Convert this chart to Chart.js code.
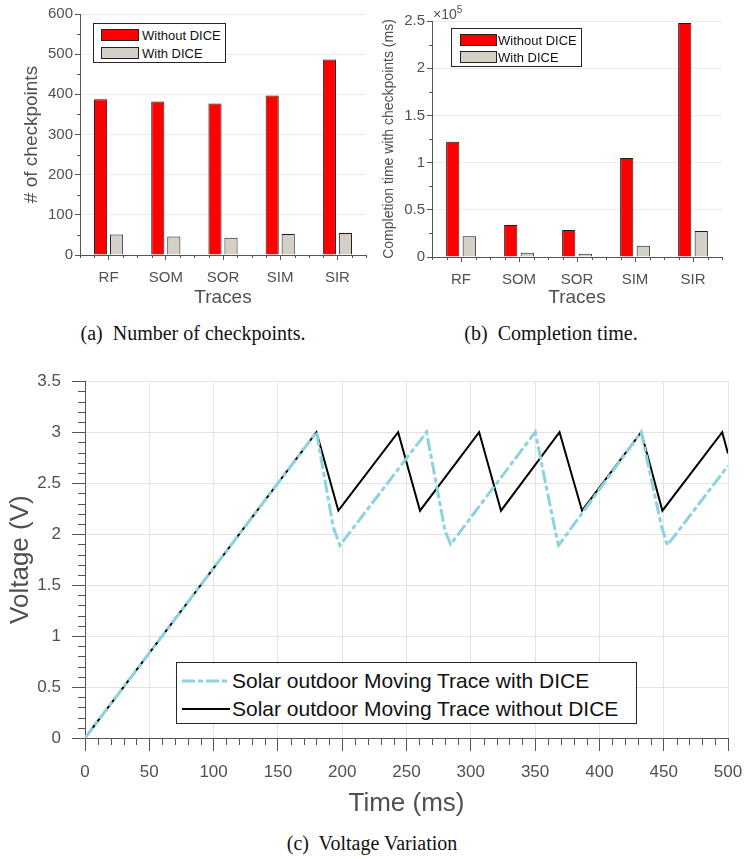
<!DOCTYPE html>
<html><head><meta charset="utf-8">
<script src="https://cdn.jsdelivr.net/npm/chart.js@4.4.1/dist/chart.umd.min.js"></script>
<style>
html,body{margin:0;padding:0;background:#fff;width:744px;height:859px;overflow:hidden;}
body{position:relative;font-family:"Liberation Sans",Arial,sans-serif;}
canvas{position:absolute;}
#cA{left:0;top:0;} #cB{left:372px;top:0;} #cC{left:0;top:360px;}
.cap{position:absolute;font-family:"Liberation Serif","Times New Roman",serif;font-size:20px;color:#111;white-space:pre;transform:translate(-50%,-50%);}
.leg{position:absolute;border:1px solid #262626;background:#fff;box-sizing:border-box;}
.sw{position:absolute;border:1px solid #222;box-sizing:border-box;}
.lt{position:absolute;color:#111;white-space:nowrap;transform:translateY(-50%);}
#exp{position:absolute;left:433px;top:4px;font-size:14px;color:#505050;}
#exp sup{font-size:10px;}
</style>
</head><body>
<canvas id="cA" width="372" height="309"></canvas>
<canvas id="cB" width="372" height="309"></canvas>
<canvas id="cC" width="744" height="459"></canvas>
<div id="exp">×10<sup>5</sup></div>
<div class="cap" style="left:193px;top:333px;">(a)  Number of checkpoints.</div>
<div class="cap" style="left:551px;top:333px;">(b)  Completion time.</div>
<div class="cap" style="left:372px;top:843px;">(c)  Voltage Variation</div>
<script>
// ---------- data ----------
const traceLabels = ['RF', 'SOM', 'SOR', 'SIM', 'SIR'];
const barSeriesNames = ['Without DICE', 'With DICE'];
const checkpointsWithout = [388, 382, 377, 397, 487];
const checkpointsWith = [51, 46, 43, 52, 55];
const timeWithoutMs = [122000, 34000, 28500, 105000, 248000];
const timeWithMs = [22000, 4500, 3500, 12000, 27500];

const lineSeriesNames = ['Solar outdoor Moving Trace with DICE', 'Solar outdoor Moving Trace without DICE'];
const tWith = [0, 180, 193, 198.2, 265.6, 280, 284.3, 350.1, 365.4, 368.3, 432.5, 448.4, 452.8, 500];
const vWith = [0, 3.0, 2.07, 1.89, 3.0, 2.03, 1.9, 3.0, 2.05, 1.89, 3.0, 2.07, 1.89, 2.67];
const tWithout = [0, 180, 197, 243.5, 260.5, 306.5, 323.5, 369, 386.5, 432.5, 449, 495.5, 500];
const vWithout = [0, 3.0, 2.23, 3.0, 2.23, 3.0, 2.23, 3.0, 2.23, 3.0, 2.23, 3.0, 2.79];

// ---------- styling ----------
const FAM = '"Liberation Sans", Arial, sans-serif';
const TXT = '#505050';
const AX = '#555555';
const RED = '#ff0000';
const GREY = '#d4d0c8';
const CYAN = '#8dd3df';

const minorTicks = {
  id: 'minorTicks',
  afterDraw(chart, args, opts) {
    const ctx = chart.ctx;
    ctx.save();
    ctx.strokeStyle = opts.color || AX;
    ctx.lineWidth = 1;
    for (const key of ['x', 'y']) {
      const o = opts[key];
      if (!o) continue;
      const s = chart.scales[key];
      const n = Math.round((o.to - o.from) / o.step);
      for (let i = 0; i <= n; i++) {
        const v = o.from + i * o.step;
        const r = (v - o.majorFrom) / o.major;
        if (Math.abs(r - Math.round(r)) < 1e-6) continue;
        const p = s.getPixelForValue(v);
        ctx.beginPath();
        if (s.isHorizontal()) {
          const px = Math.round(p) + 0.5;
          ctx.moveTo(px, s.top); ctx.lineTo(px, s.top + o.len);
        } else {
          const py = Math.round(p) + 0.5;
          ctx.moveTo(s.right - o.len, py); ctx.lineTo(s.right, py);
        }
        ctx.stroke();
      }
    }
    ctx.restore();
  }
};

function barChart(id, dataA, dataB, cfg) {
  return new Chart(document.getElementById(id), {
    type: 'bar',
    data: {
      labels: traceLabels,
      datasets: [
        { label: barSeriesNames[0], data: dataA, backgroundColor: RED, borderColor: '#1a1a1a', borderWidth: 1,
          categoryPercentage: cfg.cat, barPercentage: cfg.bar },
        { label: barSeriesNames[1], data: dataB, backgroundColor: GREY, borderColor: '#1a1a1a', borderWidth: 1,
          categoryPercentage: cfg.cat, barPercentage: cfg.bar }
      ]
    },
    options: {
      responsive: false, animation: false, devicePixelRatio: 1,
      layout: { padding: cfg.pad },
      plugins: {
        legend: { display: false }, tooltip: { enabled: false },
        minorTicks: {
          color: AX,
          x: { from: -0.5, to: 4.5, step: 0.25, major: 1, majorFrom: 0, len: 3 },
          y: { from: 0, to: cfg.max, step: cfg.minor, major: cfg.step, majorFrom: 0, len: 3 }
        }
      },
      scales: {
        x: {
          grid: { display: true, drawOnChartArea: false, offset: false, tickLength: 5, tickColor: AX },
          border: { display: true, color: AX },
          ticks: { font: { family: FAM, size: 15 }, color: TXT, padding: 9, maxRotation: 0, autoSkip: false },
          title: { display: true, text: 'Traces', font: { family: FAM, size: 19 }, color: TXT, padding: { top: 0, bottom: 0 } },
          afterFit(s) { s.height = cfg.xh; s.paddingLeft = 0; s.paddingRight = 0; }
        },
        y: {
          min: 0, max: cfg.max,
          grid: { color: '#ebebeb', tickLength: 5, tickColor: AX },
          border: { display: true, color: AX },
          ticks: { stepSize: cfg.step, font: { family: FAM, size: 15 }, color: TXT, padding: 2, callback: cfg.fmt },
          title: { display: true, text: cfg.ytitle, font: { family: FAM, size: cfg.ytsize }, color: TXT, padding: { top: cfg.ytpad, bottom: 0 } },
          afterFit(s) { s.width = cfg.yw; }
        }
      }
    },
    plugins: [minorTicks]
  });
}

barChart('cA', checkpointsWithout, checkpointsWith, {
  cat: 0.56, bar: 0.82, pad: { top: 14, right: 6, left: 0, bottom: 0 },
  max: 600, step: 100, minor: 50, xh: 54, yw: 80,
  ytitle: '# of checkpoints', ytsize: 19, ytpad: 20,
  fmt: v => String(v)
});

barChart('cB', timeWithoutMs, timeWithMs, {
  cat: 0.57, bar: 0.8, pad: { top: 21, right: 22, left: 0, bottom: 0 },
  max: 250000, step: 50000, minor: 25000, xh: 52, yw: 60,
  ytitle: 'Completion time with checkpoints (ms)', ytsize: 14, ytpad: 9,
  fmt: v => String(Math.round(v / 1e4) / 10)
});

new Chart(document.getElementById('cC'), {
  type: 'line',
  data: {
    datasets: [
      { label: lineSeriesNames[0], data: tWith.map((t, i) => ({ x: t, y: vWith[i] })),
        borderColor: CYAN, borderWidth: 3, borderDash: [13, 3, 5, 3], pointRadius: 0, tension: 0, fill: false },
      { label: lineSeriesNames[1], data: tWithout.map((t, i) => ({ x: t, y: vWithout[i] })),
        borderColor: '#000000', borderWidth: 2, pointRadius: 0, tension: 0, fill: false }
    ]
  },
  options: {
    responsive: false, animation: false, devicePixelRatio: 1,
    layout: { padding: { top: 21, right: 16, left: 0, bottom: 0 } },
    plugins: {
      legend: { display: false }, tooltip: { enabled: false },
      minorTicks: {
        color: AX,
        x: { from: 0, to: 500, step: 10, major: 50, majorFrom: 0, len: 7 },
        y: { from: 0, to: 3.5, step: 0.1, major: 0.5, majorFrom: 0, len: 7 }
      }
    },
    scales: {
      x: {
        type: 'linear', min: 0, max: 500,
        grid: { color: '#e3e3e3', tickLength: 13, tickColor: AX },
        border: { display: true, color: AX },
        ticks: { stepSize: 50, font: { family: FAM, size: 17 }, color: TXT, padding: 11, maxRotation: 0 },
        title: { display: true, text: 'Time (ms)', font: { family: FAM, size: 26 }, color: TXT, padding: { top: 0, bottom: 0 } },
        afterFit(s) { s.height = 81; s.paddingLeft = 0; s.paddingRight = 0; }
      },
      y: {
        min: 0, max: 3.5,
        grid: { color: '#e3e3e3', tickLength: 13, tickColor: AX },
        border: { display: true, color: AX },
        ticks: { stepSize: 0.5, font: { family: FAM, size: 17 }, color: TXT, padding: 11,
                 callback: v => String(Math.round(v * 10) / 10) },
        title: { display: true, text: 'Voltage (V)', font: { family: FAM, size: 26 }, color: TXT, padding: { top: 5, bottom: 0 } },
        afterFit(s) { s.width = 85; }
      }
    }
  },
  plugins: [minorTicks]
});

// ---------- legends (HTML overlays) ----------
function barLegend(box, sw, textX, rowY, fs) {
  const d = document.createElement('div');
  d.className = 'leg';
  Object.assign(d.style, { left: box[0] + 'px', top: box[1] + 'px', width: box[2] + 'px', height: box[3] + 'px' });
  document.body.appendChild(d);
  [RED, GREY].forEach((c, i) => {
    const s = document.createElement('div');
    s.className = 'sw';
    Object.assign(s.style, { left: sw[0] + 'px', top: (rowY[i] - sw[2] / 2) + 'px', width: sw[1] + 'px', height: sw[2] + 'px', background: c });
    d.appendChild(s);
    const t = document.createElement('div');
    t.className = 'lt';
    t.textContent = barSeriesNames[i];
    Object.assign(t.style, { left: textX + 'px', top: rowY[i] + 'px', fontSize: fs + 'px' });
    d.appendChild(t);
  });
}
barLegend([93, 23, 133, 40], [7, 38, 12], 48, [11, 28.5], 13);
barLegend([451, 28, 131, 39], [8, 37, 12], 46, [11, 27.5], 13);

(function () {
  const d = document.createElement('div');
  d.className = 'leg';
  Object.assign(d.style, { left: '176px', top: '662px', width: '461px', height: '62px' });
  document.body.appendChild(d);
  const rows = [
    { y: 18, color: CYAN, w: 3, dash: '13 3 5 3' },
    { y: 46, color: '#000', w: 2, dash: '' }
  ];
  rows.forEach((r, i) => {
    const ns = 'http://www.w3.org/2000/svg';
    const svg = document.createElementNS(ns, 'svg');
    svg.setAttribute('width', '50'); svg.setAttribute('height', '8');
    svg.style.position = 'absolute'; svg.style.left = '5px'; svg.style.top = (r.y - 4) + 'px';
    const ln = document.createElementNS(ns, 'line');
    ln.setAttribute('x1', '0'); ln.setAttribute('x2', '48'); ln.setAttribute('y1', '4'); ln.setAttribute('y2', '4');
    ln.setAttribute('stroke', r.color); ln.setAttribute('stroke-width', r.w);
    if (r.dash) ln.setAttribute('stroke-dasharray', r.dash);
    svg.appendChild(ln);
    d.appendChild(svg);
    const t = document.createElement('div');
    t.className = 'lt';
    t.textContent = lineSeriesNames[i];
    Object.assign(t.style, { left: '55px', top: r.y + 'px', fontSize: '21px' });
    d.appendChild(t);
  });
})();
</script>
</body></html>
